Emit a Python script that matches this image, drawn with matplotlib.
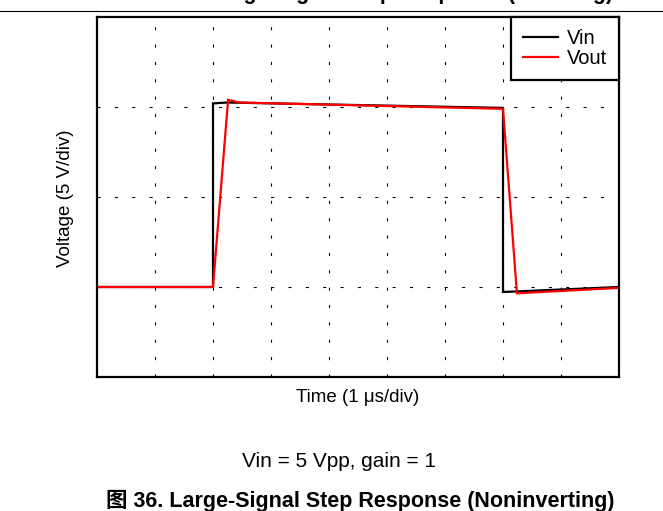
import matplotlib
matplotlib.use("Agg")
import matplotlib.pyplot as plt
from matplotlib.lines import Line2D

plt.rcParams['font.family'] = ['Liberation Sans', 'Noto Sans CJK SC', 'DejaVu Sans']
plt.rcParams['lines.scale_dashes'] = False

# Time in divisions (1 us/div), voltage in divisions (5 V/div)
vin_t = [0.0, 2.0, 2.0, 2.25, 7.0, 7.0, 7.22, 9.0]
vin_v = [1.0, 1.0, 3.04, 3.05, 2.99, 0.945, 0.95, 1.0]
vout_t = [0.0, 2.0, 2.26, 2.45, 7.0, 7.24, 9.0]
vout_v = [1.0, 1.0, 3.08, 3.05, 2.98, 0.93, 0.99]
labels = ["Vin", "Vout"]

W, H = 663, 511
fig = plt.figure(figsize=(W / 100, H / 100), dpi=100)
ax = fig.add_axes([97 / W, 1 - 377 / H, (619 - 97) / W, (377 - 17) / H])

ax.plot(vin_t, vin_v, color='black', lw=1.6, label=labels[0], solid_joinstyle='miter')
ax.plot(vout_t, vout_v, color='#ff0000', lw=1.6, label=labels[1], solid_joinstyle='miter')

ax.set_xlim(0, 9)
ax.set_ylim(0, 4)
ax.set_xticks(range(1, 9))
ax.set_yticks(range(1, 4))
ax.tick_params(length=0, labelbottom=False, labelleft=False)
ax.grid(True, color='black', lw=0.8, linestyle=(0, (2.2, 10.3)))
for s in ax.spines.values():
    s.set_linewidth(1.6)

leg = ax.legend(loc='upper right', borderaxespad=0, fancybox=False, fontsize=14.5,
                handlelength=1.7, handletextpad=0.45, labelspacing=0.05,
                borderpad=0.6, framealpha=1)
leg.get_frame().set_edgecolor('black')
leg.get_frame().set_linewidth(1.6)

fig.text(65 / W, 1 - 198 / H, "Voltage (5 V/div)", rotation=90, ha='center', va='center', fontsize=13.5)
fig.text(358 / W, 1 - 398 / H, "Time (1 μs/div)", ha='center', va='center', fontsize=13.5)
fig.text(339 / W, 1 - 461 / H, "Vin = 5 Vpp, gain = 1", ha='center', va='center', fontsize=15)
fig.text(360 / W, 1 - 501 / H, "图 36. Large-Signal Step Response (Noninverting)", ha='center',
         va='center', fontsize=15.5, fontweight='bold')

# clipped page header (only descenders visible)
fig.text(613 / W, 1 + 0.5 / H, "Large-Signal Step Response (Inverting)", ha='right',
         va='baseline', fontsize=15.5, fontweight='bold')
fig.add_artist(Line2D([0, 1], [1 - 11 / H, 1 - 11 / H], color='black', lw=0.8,
                      transform=fig.transFigure))

fig.savefig("out.png", dpi=100)
